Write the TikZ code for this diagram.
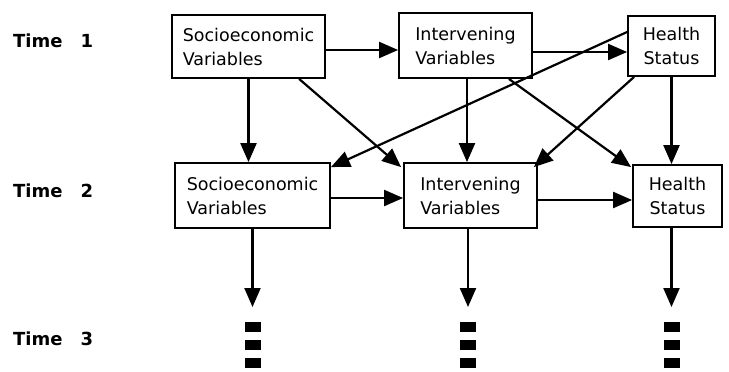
\documentclass[tikz,border=0pt]{standalone}
\usepackage{fontspec}
\setmainfont{DejaVu Sans}
\usetikzlibrary{arrows.meta,calc}
\begin{document}
\begin{tikzpicture}[x=1pt,y=-1pt,
  box/.style={draw,line width=1.8pt,inner sep=0pt,align=left,font=\fontsize{17.5}{24}\selectfont},
  arr/.style={line width=2.2pt,-{Triangle[length=19pt,width=16pt]}},
  timelbl/.style={anchor=base west,inner sep=0pt,font=\bfseries\fontsize{18}{20}\selectfont},
  sq/.style={fill=black,minimum width=16pt,minimum height=10pt,inner sep=0pt}]
\useasboundingbox (0,0) rectangle (729,372);
% row 1
\node[box,minimum width=153pt,minimum height=63pt] (s1) at (248.5,46.5) {Socioeconomic\\Variables};
\node[box,minimum width=133pt,minimum height=65pt] (i1) at (465.5,45.5) {Intervening\\Variables};
\node[box,minimum width=87pt,minimum height=60pt,align=center] (h1) at (671.5,46) {Health\\Status};
% row 2
\node[box,minimum width=155pt,minimum height=65pt] (s2) at (252.5,195.5) {Socioeconomic\\Variables};
\node[box,minimum width=133pt,minimum height=65pt] (i2) at (470.5,195.5) {Intervening\\Variables};
\node[box,minimum width=89pt,minimum height=62pt,align=center] (h2) at (677.5,196) {Health\\Status};
% time labels
\node[timelbl] (t1) at (13,47) {Time\hspace{18pt}1};
\node[timelbl] (t2) at (13,197) {Time\hspace{18pt}2};
\node[timelbl] (t3) at (13,345) {Time\hspace{18pt}3};
% helper coordinates
\coordinate (ya) at (0,50);
\coordinate (yb) at (0,52);
\coordinate (yc) at (0,198);
\coordinate (yd) at (0,200);
\coordinate (tipy) at (0,307);
% horizontal arrows
\draw[arr] (s1.east |- ya) -- (i1.west |- ya);
\draw[arr] (i1.east |- yb) -- (h1.west |- yb);
\draw[arr] (s2.east |- yc) -- (i2.west |- yc);
\draw[arr] (i2.east |- yd) -- (h2.west |- yd);
% vertical arrows time1 -> time2
\draw[arr] (s1.south) -- (s1.south |- s2.north);
\draw[arr] ([xshift=1.5pt]i1.south) -- ([xshift=1.5pt]i1.south |- i2.north);
\draw[arr] (h1.south) -- (h1.south |- h2.north);
% diagonal arrows
\draw[arr] ([xshift=128pt]s1.south west) -- ([shift={(-2pt,-5pt)}]i2.north west);
\draw[arr] ([yshift=14pt]h1.west) -- ([yshift=-5pt]s2.north east);
\draw[arr] ([xshift=-24pt]i1.south east) -- ([shift={(-1pt,-3pt)}]h2.north west);
\draw[arr] ([xshift=7pt]h1.south west) -- ([shift={(-4pt,-5pt)}]i2.north east);
% down arrows to time 3
\coordinate (c1) at (s2.south);
\coordinate (c2) at ([xshift=-2.5pt]i2.south);
\coordinate (c3) at (h1.south |- h2.south);
\draw[arr] (c1) -- (c1 |- tipy);
\draw[arr] (c2) -- (c2 |- tipy);
\draw[arr] (c3) -- (c3 |- tipy);
% continuation squares
\foreach \c in {c1,c2,c3}{
  \node[sq] at ($(\c |- tipy)+(0,20)$) {};
  \node[sq] at ($(\c |- tipy)+(0,38)$) {};
  \node[sq] at ($(\c |- tipy)+(0,56)$) {};
}
\end{tikzpicture}
\end{document}
